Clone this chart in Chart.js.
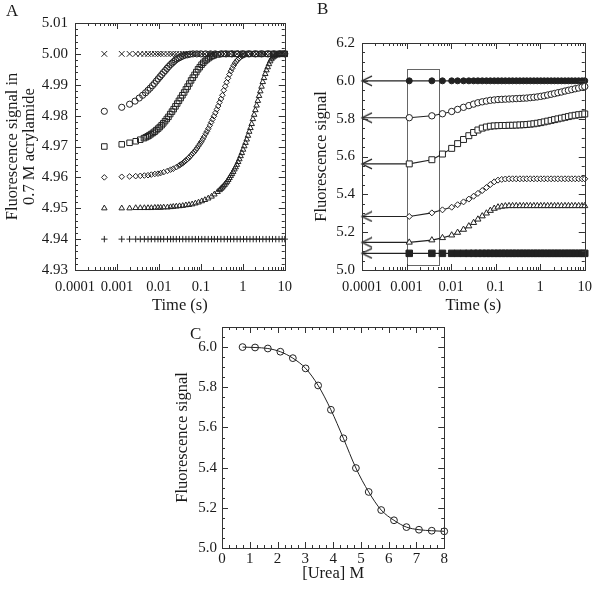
<!DOCTYPE html>
<html>
<head>
<meta charset="utf-8">
<script src="https://cdn.jsdelivr.net/npm/chart.js@4.4.0/dist/chart.umd.min.js"></script>
<style>
  body { margin: 0; background: #fff; }
  #wrap { position: relative; width: 600px; height: 589px; overflow: hidden; font-family: 'Liberation Serif', 'Times New Roman', serif; color: #1a1a1a; }
  canvas { position: absolute; }
  .lbl { position: absolute; font-size: 17px; line-height: 17px; }
</style>
</head>
<body>
<div id="wrap">
  <canvas id="chartA" width="300" height="320" style="left:0;top:0"></canvas>
  <canvas id="chartB" width="300" height="320" style="left:300px;top:0"></canvas>
  <canvas id="chartC" width="300" height="289" style="left:150px;top:300px"></canvas>
  <div class="lbl" style="left:6px;top:2px">A</div>
  <div class="lbl" style="left:317px;top:0px">B</div>
  <div class="lbl" style="left:190px;top:325px">C</div>
</div>
<script>
// ---- Panel A data (time in s, signal in 0.7 M acrylamide) ----
// flat series (x and +)
const timeA = [0.0005, 0.0013, 0.002, 0.0028, 0.0036, 0.0045, 0.0055, 0.0066, 0.008, 0.0095,
  0.011, 0.013, 0.016, 0.019, 0.022, 0.026, 0.031, 0.037, 0.044, 0.052,
  0.062, 0.074, 0.088, 0.105, 0.125, 0.15, 0.18, 0.21, 0.25, 0.3,
  0.36, 0.43, 0.51, 0.61, 0.73, 0.87, 1.04, 1.24, 1.48, 1.77,
  2.1, 2.5, 3.0, 3.6, 4.3, 5.1, 6.1, 7.3, 8.7, 10];
const crossA = [5, 5, 5, 5, 5, 5, 5, 5, 5, 5,
  5, 5, 5, 5, 5, 5, 5, 5, 5, 5,
  5, 5, 5, 5, 5, 5, 5, 5, 5, 5,
  5, 5, 5, 5, 5, 5, 5, 5, 5, 5,
  5, 5, 5, 5, 5, 5, 5, 5, 5, 5];
const plusA = [4.94, 4.94, 4.94, 4.94, 4.94, 4.94, 4.94, 4.94, 4.94, 4.94,
  4.94, 4.94, 4.94, 4.94, 4.94, 4.94, 4.94, 4.94, 4.94, 4.94,
  4.94, 4.94, 4.94, 4.94, 4.94, 4.94, 4.94, 4.94, 4.94, 4.94,
  4.94, 4.94, 4.94, 4.94, 4.94, 4.94, 4.94, 4.94, 4.94, 4.94,
  4.94, 4.94, 4.94, 4.94, 4.94, 4.94, 4.94, 4.94, 4.94, 4.94];

// circles
const timeCircleA = [0.0005, 0.0013, 0.002, 0.0027, 0.0034, 0.0041, 0.0048, 0.0055, 0.0062, 0.007,
  0.0078, 0.0087, 0.0096, 0.0106, 0.0117, 0.0129, 0.0142, 0.0156, 0.0171, 0.0188,
  0.0206, 0.0226, 0.0248, 0.0272, 0.03, 0.033, 0.037, 0.042, 0.048, 0.055,
  0.065, 0.08, 0.1, 0.13, 0.17, 0.22, 0.3, 0.4, 0.55, 0.75,
  1, 1.4, 2, 2.8, 4, 5.5, 7.5, 10];
const circleA = [4.9814, 4.9827, 4.9837, 4.9847, 4.9857, 4.9866, 4.9874, 4.9882, 4.9889, 4.9897,
  4.9904, 4.9912, 4.9919, 4.9926, 4.9933, 4.9940, 4.9946, 4.9953, 4.9959, 4.9965,
  4.9970, 4.9975, 4.9980, 4.9984, 4.9987, 4.9990, 4.9993, 4.9996, 4.9997, 4.9999,
  5, 5, 5, 5, 5, 5, 5, 5, 5, 5,
  5, 5, 5, 5, 5, 5, 5, 5];

// squares
const timeSquareA = [0.0005, 0.0013, 0.002, 0.0028, 0.0036,
  0.0044, 0.0049, 0.0054, 0.0059, 0.0065, 0.0072, 0.0079, 0.0087, 0.0096, 0.0105,
  0.0116, 0.0127, 0.014, 0.0154, 0.0169, 0.0186, 0.0205, 0.0225, 0.0248, 0.0273,
  0.03, 0.033, 0.0363, 0.04, 0.044, 0.0484, 0.0532, 0.0585, 0.0644, 0.0708,
  0.0779, 0.0857, 0.0943, 0.104, 0.114, 0.126, 0.138, 0.152, 0.167, 0.184,
  0.202, 0.25, 0.35, 0.5, 0.7, 1, 1.4, 2, 2.8, 4,
  5.5, 7.5, 10];
const squareA = [4.9700, 4.9707, 4.9712, 4.9717, 4.9722,
  4.9727, 4.9730, 4.9733, 4.9736, 4.9740, 4.9744, 4.9748, 4.9753, 4.9758, 4.9763,
  4.9769, 4.9775, 4.9782, 4.9789, 4.9796, 4.9805, 4.9813, 4.9821, 4.9830, 4.9839,
  4.9848, 4.9857, 4.9866, 4.9875, 4.9885, 4.9894, 4.9904, 4.9914, 4.9923, 4.9932,
  4.9941, 4.9950, 4.9957, 4.9965, 4.9971, 4.9977, 4.9982, 4.9986, 4.9990, 4.9993,
  4.9995, 4.9998, 5, 5, 5, 5, 5, 5, 5, 5,
  5, 5, 5];

// diamonds
const timeDiamondA = [0.0005, 0.0013, 0.002, 0.0028, 0.0036, 0.0045, 0.0055, 0.0066, 0.008, 0.0095,
  0.011, 0.013, 0.016, 0.019, 0.022, 0.026,
  0.03, 0.0324, 0.035, 0.0378, 0.0408, 0.0441, 0.0476, 0.0514, 0.0555, 0.06,
  0.0648, 0.07, 0.0756, 0.0816, 0.0882, 0.0952, 0.103, 0.111, 0.12, 0.13,
  0.14, 0.151, 0.163, 0.176, 0.19, 0.205, 0.222, 0.24, 0.259, 0.28,
  0.302, 0.326, 0.352, 0.38, 0.411, 0.444, 0.479, 0.518, 0.559, 0.604,
  0.652, 0.704, 0.761, 0.822, 0.887, 0.958, 1.035, 1.12,
  1.4, 1.8, 2.4, 3.2, 4.2, 5.6, 7.5, 10];
const diamondA = [4.9600, 4.9602, 4.9603, 4.9604, 4.9605, 4.9606, 4.9607, 4.9609, 4.9611, 4.9612,
  4.9614, 4.9617, 4.9621, 4.9625, 4.9628, 4.9633,
  4.9638, 4.9641, 4.9644, 4.9647, 4.9651, 4.9655, 4.9659, 4.9663, 4.9668, 4.9673,
  4.9678, 4.9683, 4.9689, 4.9695, 4.9702, 4.9709, 4.9716, 4.9724, 4.9732, 4.9741,
  4.9749, 4.9758, 4.9768, 4.9778, 4.9788, 4.9798, 4.9809, 4.9820, 4.9831, 4.9843,
  4.9854, 4.9866, 4.9882, 4.9895, 4.9908, 4.9921, 4.9933, 4.9944, 4.9953, 4.9962,
  4.9970, 4.9976, 4.9981, 4.9986, 4.9990, 4.9993, 4.9995, 4.9997,
  4.9999, 5, 5, 5, 5, 5, 5, 5];

// triangles
const timeTriangleA = [0.0005, 0.0013, 0.002, 0.0028, 0.0036, 0.0045, 0.0055, 0.0066, 0.008, 0.0095,
  0.011, 0.013, 0.016, 0.019, 0.022, 0.026, 0.031, 0.037, 0.044, 0.052,
  0.062, 0.074, 0.088, 0.105, 0.125, 0.15, 0.18, 0.21, 0.25,
  0.28, 0.3, 0.321, 0.343, 0.367, 0.393, 0.42, 0.45, 0.481, 0.515,
  0.551, 0.59, 0.631, 0.675, 0.722, 0.773, 0.827, 0.885, 0.947, 1.013,
  1.084, 1.16, 1.241, 1.328, 1.421, 1.52, 1.627, 1.741, 1.862, 1.993,
  2.132, 2.282, 2.441, 2.612, 2.795, 2.991, 3.2, 3.424, 3.664, 3.92,
  4.195, 4.488, 4.803, 5.139, 5.499, 5.884, 6.295, 6.736, 7.208, 7.712,
  8.252, 8.83, 9.448, 10];
const triangleA = [4.9500, 4.9500, 4.9500, 4.9501, 4.9501, 4.9501, 4.9501, 4.9501, 4.9502, 4.9502,
  4.9502, 4.9503, 4.9503, 4.9504, 4.9505, 4.9506, 4.9507, 4.9508, 4.9510, 4.9511,
  4.9513, 4.9516, 4.9519, 4.9523, 4.9527, 4.9532, 4.9538, 4.9545, 4.9553,
  4.9559, 4.9563, 4.9567, 4.9571, 4.9576, 4.9581, 4.9586, 4.9592, 4.9598, 4.9605,
  4.9611, 4.9618, 4.9626, 4.9633, 4.9641, 4.9650, 4.9659, 4.9669, 4.9679, 4.9690,
  4.9701, 4.9712, 4.9723, 4.9735, 4.9748, 4.9760, 4.9773, 4.9789, 4.9803, 4.9818,
  4.9833, 4.9848, 4.9864, 4.9879, 4.9894, 4.9909, 4.9922, 4.9935, 4.9947, 4.9957,
  4.9967, 4.9976, 4.9983, 4.9988, 4.9991, 4.9994, 4.9996, 4.9998, 4.9999, 5,
  5, 5, 5, 5];

// ---- Panel B data (first time = axis start, where the arrows sit) ----
const timeB = [0.0001, 0.00115, 0.0037, 0.0064, 0.0103, 0.014, 0.019, 0.025, 0.032, 0.04,
  0.05, 0.062, 0.076, 0.093, 0.113, 0.137, 0.165, 0.2, 0.24, 0.29,
  0.35, 0.42, 0.5, 0.6, 0.72, 0.86, 1.03, 1.23, 1.47, 1.76,
  2.1, 2.5, 3.0, 3.6, 4.3, 5.1, 6.1, 7.3, 8.7, 10];
const filledCircleB = [6, 6, 6, 6, 6, 6, 6, 6, 6, 6,
  6, 6, 6, 6, 6, 6, 6, 6, 6, 6,
  6, 6, 6, 6, 6, 6, 6, 6, 6, 6,
  6, 6, 6, 6, 6, 6, 6, 6, 6, 6];
const circleB = [5.805, 5.805, 5.815, 5.826, 5.838, 5.849, 5.86, 5.869, 5.877, 5.884,
  5.889, 5.893, 5.897, 5.899, 5.901, 5.902, 5.903, 5.904, 5.905, 5.906,
  5.907, 5.908, 5.909, 5.911, 5.913, 5.915, 5.918, 5.921, 5.925, 5.929,
  5.933, 5.937, 5.941, 5.946, 5.950, 5.954, 5.958, 5.962, 5.967, 5.970];
const squareB = [5.561, 5.561, 5.583, 5.613, 5.643, 5.668, 5.69, 5.71, 5.727, 5.74,
  5.75, 5.756, 5.76, 5.762, 5.763, 5.764, 5.764, 5.765, 5.765, 5.766,
  5.767, 5.768, 5.769, 5.771, 5.773, 5.776, 5.779, 5.783, 5.787, 5.791,
  5.795, 5.799, 5.803, 5.807, 5.811, 5.815, 5.818, 5.821, 5.823, 5.825];
const diamondB = [5.283, 5.283, 5.302, 5.318, 5.332, 5.345, 5.36, 5.375, 5.39, 5.405,
  5.42, 5.436, 5.452, 5.466, 5.475, 5.479, 5.481, 5.482, 5.482, 5.482,
  5.482, 5.482, 5.482, 5.482, 5.482, 5.482, 5.482, 5.482, 5.482, 5.482,
  5.482, 5.482, 5.482, 5.482, 5.482, 5.482, 5.482, 5.482, 5.482, 5.482];
const triangleB = [5.146, 5.146, 5.158, 5.17, 5.184, 5.198, 5.214, 5.232, 5.25, 5.268,
  5.285, 5.3, 5.314, 5.325, 5.332, 5.336, 5.338, 5.339, 5.339, 5.339,
  5.339, 5.339, 5.339, 5.339, 5.339, 5.339, 5.339, 5.339, 5.339, 5.339,
  5.339, 5.339, 5.339, 5.339, 5.339, 5.339, 5.339, 5.339, 5.339, 5.339];
const filledSquareB = [5.088, 5.088, 5.088, 5.088, 5.088, 5.088, 5.088, 5.088, 5.088, 5.088,
  5.088, 5.088, 5.088, 5.088, 5.088, 5.088, 5.088, 5.088, 5.088, 5.088,
  5.088, 5.088, 5.088, 5.088, 5.088, 5.088, 5.088, 5.088, 5.088, 5.088,
  5.088, 5.088, 5.088, 5.088, 5.088, 5.088, 5.088, 5.088, 5.088, 5.088];
// highlighted window in B (time range, signal range)
const boxTimeB = [0.001, 0.0052];
const boxSignalB = [5.03, 6.065];

// ---- Panel C data ----
const ureaC = [0.74, 1.19, 1.65, 2.10, 2.55, 3.01, 3.46, 3.92, 4.37, 4.82, 5.28, 5.73, 6.19, 6.64, 7.09, 7.55, 8.0];
const signalC = [6.000, 5.998, 5.993, 5.977, 5.945, 5.894, 5.809, 5.688, 5.546, 5.398, 5.279, 5.189, 5.138, 5.104, 5.091, 5.086, 5.083];

// ---- tick values / labels ----
const timeTicks = [0.0001, 0.001, 0.01, 0.1, 1, 10];
const timeTickLabels = ['0.0001', '0.001', '0.01', '0.1', '1', '10'];
const yTicksA = [4.93, 4.94, 4.95, 4.96, 4.97, 4.98, 4.99, 5.00, 5.01];
const yTicksB = [5.0, 5.2, 5.4, 5.6, 5.8, 6.0, 6.2];
const xTicksC = [0, 1, 2, 3, 4, 5, 6, 7, 8];
const yTicksC = [5.0, 5.2, 5.4, 5.6, 5.8, 6.0];

Chart.defaults.font.family = "'Liberation Serif', 'Times New Roman', serif";
Chart.defaults.color = '#1a1a1a';

const INK = '#222';

// frame with inward ticks on all four sides, plus optional box
const framePlugin = {
  id: 'frame',
  beforeDatasetsDraw(chart, args, opts) {
    if (!opts.boxX) return;
    const {ctx, scales: {x, y}} = chart;
    const x0 = x.getPixelForValue(opts.boxX[0]), x1 = x.getPixelForValue(opts.boxX[1]);
    const y0 = y.getPixelForValue(opts.boxY[1]), y1 = y.getPixelForValue(opts.boxY[0]);
    ctx.save();
    ctx.strokeStyle = '#666';
    ctx.lineWidth = 1;
    ctx.strokeRect(Math.round(x0) + 0.5, Math.round(y0) + 0.5, Math.round(x1 - x0), Math.round(y1 - y0));
    ctx.restore();
  },
  afterDraw(chart, args, opts) {
    const {ctx, chartArea: a, scales: {x, y}} = chart;
    ctx.save();
    ctx.strokeStyle = '#333';
    ctx.lineWidth = 1;
    ctx.strokeRect(Math.round(a.left) + 0.5, Math.round(a.top) + 0.5, Math.round(a.right - a.left), Math.round(a.bottom - a.top));

    const ticksFor = (scale, minor) => {
      const out = [];
      if (minor === 'log') {
        const lo = Math.round(Math.log10(scale.min)), hi = Math.round(Math.log10(scale.max));
        for (let e = lo; e <= hi; e++) {
          out.push([Math.pow(10, e), true]);
          if (e < hi) for (let k = 2; k <= 9; k++) out.push([k * Math.pow(10, e), false]);
        }
      } else {
        scale.ticks.forEach(t => out.push([t.value, true]));
        const n = Math.round((scale.max - scale.min) / minor);
        for (let i = 0; i <= n; i++) out.push([scale.min + i * minor, false]);
      }
      return out;
    };
    ctx.beginPath();
    ticksFor(x, opts.xMinor).forEach(([v, major]) => {
      const px = Math.round(x.getPixelForValue(v)) + 0.5;
      const len = major ? 6 : 3;
      ctx.moveTo(px, a.bottom); ctx.lineTo(px, a.bottom - len);
      ctx.moveTo(px, a.top); ctx.lineTo(px, a.top + len);
    });
    ticksFor(y, opts.yMinor).forEach(([v, major]) => {
      const py = Math.round(y.getPixelForValue(v)) + 0.5;
      const len = major ? 6 : 3;
      ctx.moveTo(a.left, py); ctx.lineTo(a.left + len, py);
      ctx.moveTo(a.right, py); ctx.lineTo(a.right - len, py);
    });
    ctx.stroke();
    ctx.restore();
  }
};

function pts(xs, ys) {
  return xs.map((t, i) => ({x: t, y: ys[i]}));
}

function logTimeAxis() {
  return {
    type: 'logarithmic', min: 0.0001, max: 10,
    afterFit: s => { s.height = 50; },
    afterBuildTicks: s => { s.ticks = timeTicks.map(v => ({value: v})); },
    ticks: { callback: (v, i) => timeTickLabels[i], autoSkip: false, maxRotation: 0, padding: 8, font: {size: 14.5} },
    grid: { display: false, drawTicks: false },
    border: { display: false },
    title: { display: true, text: 'Time (s)', font: {size: 16.5}, padding: {top: 0, bottom: 4} }
  };
}

function linAxis(min, max, ticks, digits, width, pad, title, titlePad, lineHeight) {
  return {
    type: 'linear', min: min, max: max,
    afterFit: s => { s.width = width; },
    afterBuildTicks: s => { s.ticks = ticks.map(v => ({value: v})); },
    ticks: { callback: v => v.toFixed(digits), autoSkip: false, padding: pad, font: {size: 15} },
    grid: { display: false, drawTicks: false },
    border: { display: false },
    title: { display: true, text: title, font: {size: 16.5, lineHeight: lineHeight}, padding: {top: titlePad, bottom: 0} }
  };
}

function markerSet(xs, ys, style, r, fill, line) {
  return {
    data: pts(xs, ys),
    pointStyle: style,
    pointRadius: r,
    pointBorderWidth: 1,
    pointBorderColor: INK,
    pointBackgroundColor: fill,
    borderColor: INK,
    borderWidth: 1.1,
    showLine: !!line,
    clip: false
  };
}

// Panel A
new Chart(document.getElementById('chartA'), {
  type: 'scatter',
  data: {
    datasets: [
      markerSet(timeA, plusA, 'cross', 3.2, 'transparent'),
      markerSet(timeTriangleA, triangleA, 'triangle', 3.2, 'transparent'),
      markerSet(timeDiamondA, diamondA, 'rectRot', 2.8, 'transparent'),
      markerSet(timeSquareA, squareA, 'rect', 3.9, 'transparent'),
      markerSet(timeCircleA, circleA, 'circle', 3.1, 'transparent'),
      markerSet(timeA, crossA, 'crossRot', 4, 'transparent')
    ]
  },
  options: {
    responsive: false, animation: false, events: [],
    layout: { padding: {top: 23, right: 3, bottom: 0, left: 0} },
    plugins: { legend: {display: false}, tooltip: {enabled: false}, frame: {xMinor: 'log', yMinor: 0.002} },
    scales: {
      x: logTimeAxis(),
      y: linAxis(4.93, 5.01, yTicksA, 2, 75, 7, ['Fluorescence signal in', '0.7 M acrylamide'], 4, 1.05)
    }
  },
  plugins: [framePlugin]
});

// arrow head marking the starting value on the left axis
const arrowImg = document.createElement('canvas');
arrowImg.width = 24; arrowImg.height = 12;
(function () {
  const g = arrowImg.getContext('2d');
  g.strokeStyle = INK; g.lineWidth = 1.3;
  g.beginPath(); g.moveTo(22, 1.2); g.lineTo(12, 6); g.lineTo(22, 10.8); g.stroke();
})();

function arrowSet(ys, style, r, fill) {
  const d = markerSet(timeB, ys, style, r, fill, true);
  d.pointStyle = c => c.dataIndex === 0 ? arrowImg : style;
  return d;
}

// Panel B
new Chart(document.getElementById('chartB'), {
  type: 'scatter',
  data: {
    datasets: [
      arrowSet(filledSquareB, 'rect', 4.6, INK),
      arrowSet(triangleB, 'triangle', 3.5, '#fff'),
      arrowSet(diamondB, 'rectRot', 3, '#fff'),
      arrowSet(squareB, 'rect', 4.2, '#fff'),
      arrowSet(circleB, 'circle', 3.2, '#fff'),
      arrowSet(filledCircleB, 'circle', 3, INK)
    ]
  },
  options: {
    responsive: false, animation: false, events: [],
    layout: { padding: {top: 43, right: 11, bottom: 0, left: 0} },
    plugins: { legend: {display: false}, tooltip: {enabled: false},
      frame: {xMinor: 'log', yMinor: 0.05, boxX: boxTimeB, boxY: boxSignalB} },
    scales: {
      x: logTimeAxis(),
      y: linAxis(5.0, 6.2, yTicksB, 1, 62, 7, 'Fluorescence signal', 12, 1.2)
    }
  },
  plugins: [framePlugin]
});

// Panel C
const xC = linAxis(0, 8, xTicksC, 0, 0, 2, '[Urea] M', 0, 1.2);
xC.afterFit = s => { s.height = 41; };
xC.ticks.maxRotation = 0;
xC.title.padding = {top: 0, bottom: 5};
new Chart(document.getElementById('chartC'), {
  type: 'scatter',
  data: {
    datasets: [Object.assign(markerSet(ureaC, signalC, 'circle', 3.4, 'transparent', true), {
      cubicInterpolationMode: 'monotone', tension: 0.4, borderWidth: 1
    })]
  },
  options: {
    responsive: false, animation: false, events: [],
    layout: { padding: {top: 27, right: 5, bottom: 0, left: 0} },
    plugins: { legend: {display: false}, tooltip: {enabled: false}, frame: {xMinor: 0.25, yMinor: 0.05} },
    scales: {
      x: xC,
      y: linAxis(5.0, 6.1, yTicksC, 1, 72, 5, 'Fluorescence signal', 23, 1.2)
    }
  },
  plugins: [framePlugin]
});
</script>
</body>
</html>
